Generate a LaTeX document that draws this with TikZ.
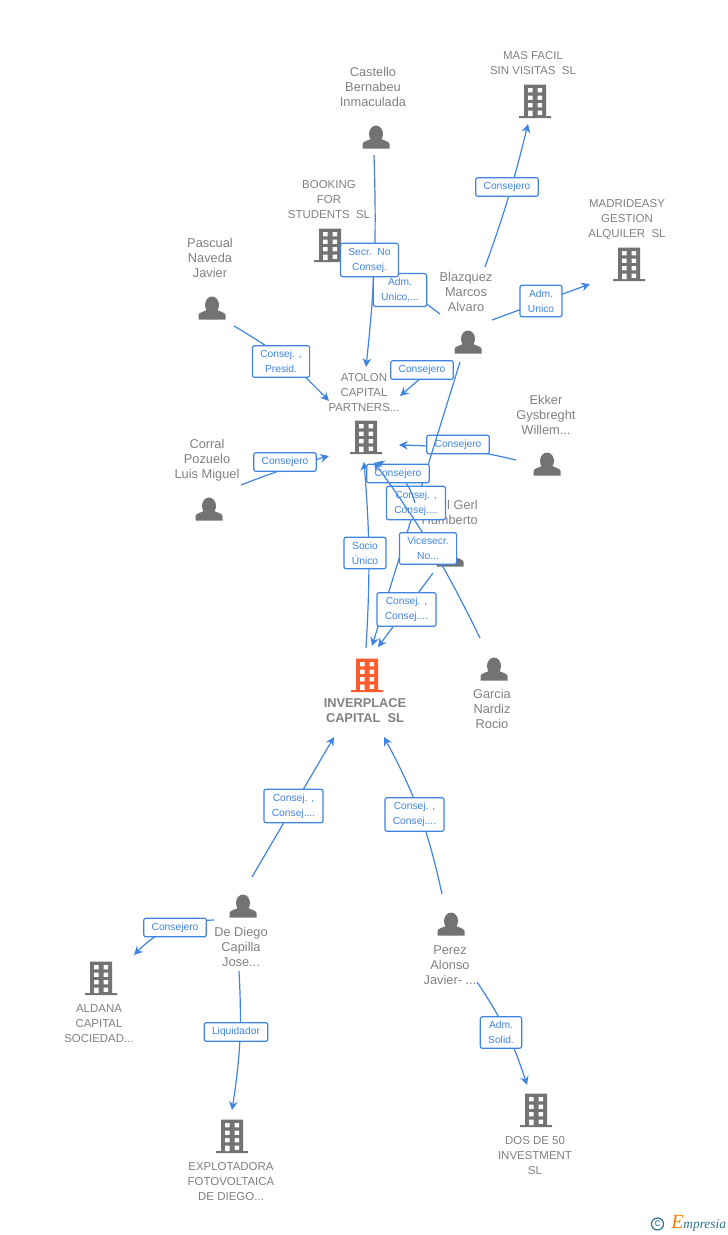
\documentclass[tikz,border=0pt]{standalone}
\usepackage{fontspec}
\setmainfont{Liberation Sans}
\newfontfamily\logofont{Liberation Serif}
\usetikzlibrary{arrows.meta}
\definecolor{linkBlue}{HTML}{3F84E0}
\definecolor{iconGray}{HTML}{737373}
\definecolor{nameGray}{HTML}{808080}
\definecolor{rootOrange}{HTML}{FF5C2E}
\definecolor{logoTeal}{HTML}{2F6F8F}
\tikzset{
    tag/.style={draw=linkBlue, line width=.9pt, rounded corners=1.6pt, fill=white, text=linkBlue,
        font=\fontsize{7.7}{11.25}\selectfont, align=center, inner xsep=5.9pt, inner ysep=3.4pt},
    link/.style={draw=linkBlue, line width=.9pt, -{Stealth[length=6.5pt,width=6.5pt]}},
    personname/.style={text=nameGray, font=\fontsize{9.6}{11.25}\selectfont, align=center, inner sep=0pt},
    firmname/.style={text=nameGray, font=\fontsize{8.6}{11.25}\selectfont, align=center, inner sep=0pt},
    pics/tower/.style={code={
        \fill[#1] (-11,-16.5) rectangle (11,15) (-16,15) rectangle (16,17);
        \foreach \wy in {-13,-5.5,2} {
            \fill[white] (-7,\wy) rectangle (-2.5,\wy+4.3) (2.5,\wy) rectangle (7,\wy+4.3);
        }
        \fill[white] (-7,9.5) rectangle (-2.5,15) (2.5,9.5) rectangle (7,13.8);
    }},
    pics/tower/.default=iconGray,
    pics/human/.style={code={
        \fill[iconGray] (0,-1) ellipse (7 and 8.5);
        \fill[iconGray] (-13.5,13.5) -- (-13.5,9) .. controls (-13.5,6) and (-6,5.5) .. (-4,3)
            -- (4,3) .. controls (6,5.5) and (13.5,6) .. (13.5,9) -- (13.5,13.5) -- cycle;
    }}
}
\begin{document}
\begin{tikzpicture}[x=.75pt, y=-.75pt]
    \useasboundingbox (0,0) rectangle (728,1235);

    % firms
    \pic at (535,101) {tower};
    \pic at (330,245) {tower};
    \pic at (629,264) {tower};
    \pic at (366,437) {tower};
    \pic at (367,675) {tower=rootOrange};
    \pic at (101,978) {tower};
    \pic at (232,1136) {tower};
    \pic at (536,1110) {tower};

    % people
    \pic at (376,135) {human};
    \pic at (212,306) {human};
    \pic at (468,340) {human};
    \pic at (547,462) {human};
    \pic at (209,507) {human};
    \pic at (450,553) {human};
    \pic at (494,667) {human};
    \pic at (243,904) {human};
    \pic at (451,922) {human};

    \node[firmname] (masfacil) at (533,63) {MAS FACIL\\SIN VISITAS\ \ SL};
    \node[firmname] (booking) at (329,199.5) {BOOKING\\FOR\\STUDENTS\ \ SL};
    \node[firmname] (madrideasy) at (627,219.5) {MADRIDEASY\\GESTION\\ALQUILER\ \ SL};
    \node[firmname] (atolon) at (364,392.5) {ATOLON\\CAPITAL\\PARTNERS...};
    \node[firmname, font=\fontsize{9.6}{11.25}\selectfont\bfseries] (inverplace) at (365,711) {INVERPLACE\\CAPITAL\ \ SL};
    \node[firmname] (aldana) at (99,1023.5) {ALDANA\\CAPITAL\\SOCIEDAD...};
    \node[firmname] (explotadora) at (231,1181.5) {EXPLOTADORA\\FOTOVOLTAICA\\DE DIEGO...};
    \node[firmname] (dosde) at (535,1155.5) {DOS DE 50\\INVESTMENT\\SL};

    \node[personname] (castello) at (373,87) {Castello\\Bernabeu\\Inmaculada};
    \node[personname] (pascual) at (210,258) {Pascual\\Naveda\\Javier};
    \node[personname] (blazquez) at (466,292) {Blazquez\\Marcos\\Alvaro};
    \node[personname] (ekker) at (546,415) {Ekker\\Gysbreght\\Willem...};
    \node[personname] (corral) at (207,460) {Corral\\Pozuelo\\Luis Miguel};
    \node[personname, align=right, anchor=east] (gerl) at (478,512.5) {l Gerl\\Humberto};
    \node[personname] (garcia) at (492,709) {Garcia\\Nardiz\\Rocio};
    \node[personname] (dediego) at (241,947) {De Diego\\Capilla\\Jose...};
    \node[personname] (perez) at (450,965) {Perez\\Alonso\\Javier- ...};

    % connector ends
    \foreach \pname/\px/\py in {castelloS/374/155, atolonN/366/367, blazA/440/314, bookingE/375/265,
        blazB/485/267, masS/528/124, blazC/492/320, madriW/590/284, blazD/430/370, atolonNE/400/396,
        blazE/460/362, inverN/372/646, ekkerW/516/460, atolonE/399/445, pascualE/234/326,
        atolonNW/329/401, corralE/241/485, atolonW/329/456, inverTop/366/648, atolonS/364/462,
        gerlA/415/503, atolonSa/376/462, gerlB/433/573, inverNb/378/647, garciaN/480/638,
        atolonSb/374/462, diegoN/252/877, inverSW/334/737, perezN/442/894, inverSE/384/737,
        diegoW/214/920, aldanaE/134/955, diegoS/239/971, explN/232/1110, perezS/477/982, dosN/527/1085}
        \coordinate (\pname) at (\px,\py);

    \foreach \from/\to/\bendby/\lx/\ly/\lbl [count=\i] in {
        blazA/bookingE/0/400/290/{Adm.\\Unico,...},
        castelloS/atolonN/4/369.5/260/{Secr.\ \ No\\Consej.},
        blazB/masS/-3/507/187/{Consejero},
        blazC/madriW/0/541/301/{Adm.\\Unico},
        blazD/atolonNE/0/422/370/{Consejero},
        ekkerW/atolonE/-6/458/444.5/{Consejero},
        pascualE/atolonNW/8/281/361.5/{Consej. ,\\Presid.},
        corralE/atolonW/3/285/462/{Consejero},
        blazE/inverN/0/416/503/{Consej. ,\\Consej....},
        inverTop/atolonS/-4/365/553/{Socio\\Único},
        gerlA/atolonSa/-28/398/473.5/{Consejero},
        gerlB/inverNb/0/406.5/609.5/{Consej. ,\\Consej....},
        garciaN/atolonSb/-5/428/548.5/{Vicesecr.\\No...},
        diegoN/inverSW/0/293.5/806/{Consej. ,\\Consej....},
        perezN/inverSE/-8/414.5/814.5/{Consej. ,\\Consej....},
        diegoW/aldanaE/-22/175/927.5/{Consejero},
        diegoS/explN/6/236/1032/{Liquidador},
        perezS/dosN/8/501/1032.5/{Adm.\\Solid.}} {
        \path (\from) edge[link, bend left=\bendby] (\to);
        \node[tag] (tag\i) at (\lx,\ly) {\lbl};
    }

    % logo
    \node[circle, draw=logoTeal, line width=.9pt, text=logoTeal, inner sep=1.1pt, font=\fontsize{8}{8}\selectfont] (copyr) at (657.5,1224) {c};
    \node[anchor=base west, inner sep=0pt, text=logoTeal, font=\logofont\itshape\fontsize{10}{12}\selectfont] (empresia) at (671,1228) {{\color{orange}\fontsize{15}{15}\selectfont E}mpresia};
\end{tikzpicture}
\end{document}
